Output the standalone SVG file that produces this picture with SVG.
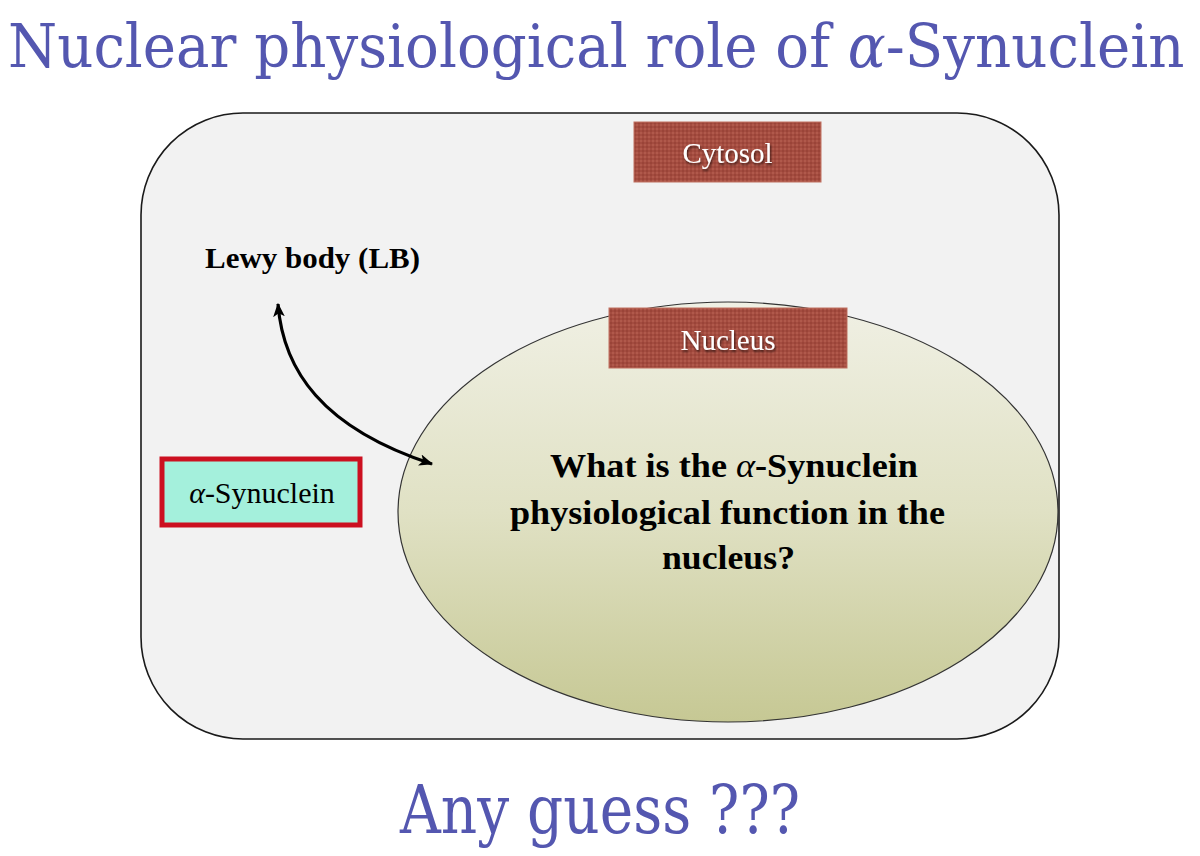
<svg xmlns="http://www.w3.org/2000/svg" width="1200" height="856" viewBox="0 0 1200 856">
  <defs>
    <linearGradient id="nucGrad" x1="0" y1="0" x2="0" y2="1">
      <stop offset="0" stop-color="#f0f0e4"/>
      <stop offset="0.5" stop-color="#e0e1c4"/>
      <stop offset="1" stop-color="#c6c894"/>
    </linearGradient>
    <pattern id="weave" width="4" height="4" patternUnits="userSpaceOnUse">
      <rect width="4" height="4" fill="#a44c40"/>
      <rect width="2" height="2" fill="#b0594b"/>
      <rect x="2" y="2" width="2" height="2" fill="#9a4438"/>
    </pattern>
    <filter id="shadow" x="-10%" y="-10%" width="120%" height="130%">
      <feDropShadow dx="1" dy="2" stdDeviation="1" flood-color="#000" flood-opacity="0.6"/>
    </filter>
    <marker id="head" viewBox="0 0 12 10" refX="11" refY="5" markerWidth="14" markerHeight="12" markerUnits="userSpaceOnUse" orient="auto-start-reverse">
      <path d="M0,0 L12,5 L0,10 L3,5 Z" fill="#000"/>
    </marker>
  </defs>
  <style>
    .title { font-family: "DejaVu Serif", "Liberation Serif", serif; fill: #5457b0; }
    .label { font-family: "Liberation Serif", serif; fill: #fff; font-size: 29px; text-anchor: middle; }
    .bold { font-family: "Liberation Serif", serif; font-weight: bold; fill: #000; }
    .tag { fill: url(#weave); stroke: #c07060; stroke-width: 1; }
  </style>

  <rect width="1200" height="856" fill="#fff"/>

  <g id="title">
    <text class="title" x="0" y="0" font-size="60" transform="translate(8,67) scale(0.937,1)">Nuclear physiological role of <tspan font-style="italic">α</tspan>-Synuclein</text>
  </g>

  <g id="cell">
    <rect x="141" y="113" width="918" height="626" rx="102" ry="102" fill="#f2f2f2" stroke="#1a1a1a" stroke-width="1.6"/>
  </g>

  <g id="cytosol">
    <rect class="tag" x="634" y="122" width="187" height="60"/>
    <text class="label" x="727.5" y="163" filter="url(#shadow)">Cytosol</text>
  </g>

  <g id="nucleus">
    <ellipse cx="728" cy="512" rx="330" ry="210" fill="url(#nucGrad)" stroke="#333" stroke-width="1.2"/>
    <rect class="tag" x="609" y="308" width="238" height="60"/>
    <text class="label" x="728" y="350" filter="url(#shadow)">Nucleus</text>
    <text class="bold" x="550" y="477" font-size="33" textLength="368" lengthAdjust="spacingAndGlyphs">What is the <tspan font-style="italic" font-weight="normal">α</tspan>-Synuclein</text>
    <text class="bold" x="510" y="524" font-size="33" textLength="435" lengthAdjust="spacingAndGlyphs">physiological function in the</text>
    <text class="bold" x="662" y="569" font-size="33" textLength="133" lengthAdjust="spacingAndGlyphs">nucleus?</text>
  </g>

  <g id="lewy-body">
    <text class="bold" x="205" y="268" font-size="29" textLength="215" lengthAdjust="spacingAndGlyphs">Lewy body (LB)</text>
  </g>

  <g id="alpha-synuclein">
    <rect x="162" y="459" width="198" height="66" fill="#a4f0dc" stroke="#cc1020" stroke-width="5"/>
    <text x="262" y="503" font-family="Liberation Serif, serif" font-size="30" fill="#000" text-anchor="middle"><tspan font-style="italic">α</tspan>-Synuclein</text>
  </g>

  <g id="connectors">
    <path d="M278,304 C283,370 322,428 432,464" fill="none" stroke="#000" stroke-width="3.2" marker-start="url(#head)" marker-end="url(#head)"/>
  </g>

  <text class="title" x="600" y="833" font-size="68" text-anchor="middle" textLength="400" lengthAdjust="spacingAndGlyphs">Any guess ???</text>
</svg>
